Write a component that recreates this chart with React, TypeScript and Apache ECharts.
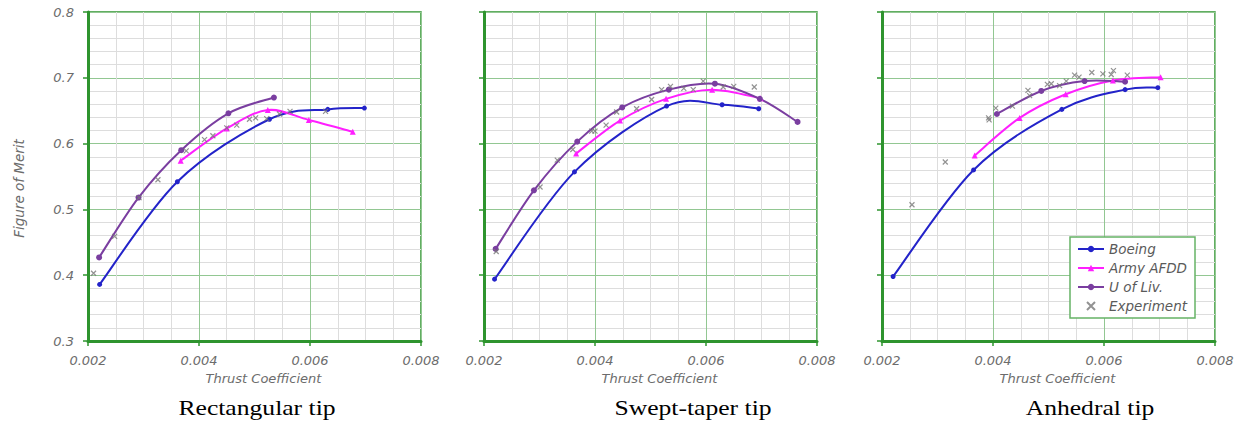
import React, { useEffect, useRef } from 'react';
import * as echarts from 'echarts';

// ---------- data ----------
const panelTitles = ['Rectangular tip', 'Swept-taper tip', 'Anhedral tip'];
const seriesNames = ['Boeing', 'Army AFDD', 'U of Liv.', 'Experiment'];
const xTicks = [0.002, 0.004, 0.006, 0.008];
const yTicks = [0.3, 0.4, 0.5, 0.6, 0.7, 0.8];

const rectBoeing = [[0.00221, 0.386], [0.00361, 0.542], [0.00527, 0.637], [0.00632, 0.652], [0.00698, 0.654]];
const rectAfdd = [[0.00367, 0.574], [0.0045, 0.623], [0.00524, 0.651], [0.00598, 0.636], [0.00677, 0.618]];
const rectLiv = [[0.0022, 0.427], [0.00291, 0.518], [0.00368, 0.59], [0.00453, 0.646], [0.00535, 0.67]];
const rectExp = [[0.0021, 0.403], [0.00248, 0.459], [0.00292, 0.518], [0.00326, 0.545], [0.00377, 0.589], [0.0041, 0.606], [0.00425, 0.612], [0.0045, 0.624], [0.00468, 0.628], [0.00491, 0.637], [0.00502, 0.639], [0.00522, 0.638], [0.00545, 0.645], [0.00564, 0.649], [0.00628, 0.649]];

const sweptBoeing = [[0.00219, 0.394], [0.00363, 0.557], [0.00529, 0.657], [0.00629, 0.659], [0.00695, 0.653]];
const sweptAfdd = [[0.00366, 0.585], [0.00445, 0.635], [0.00528, 0.668], [0.00611, 0.682], [0.00698, 0.669]];
const sweptLiv = [[0.00221, 0.44], [0.0029, 0.529], [0.00368, 0.603], [0.00449, 0.655], [0.00533, 0.682], [0.00616, 0.691], [0.00697, 0.668], [0.00765, 0.633]];
const sweptExp = [[0.00222, 0.436], [0.00301, 0.534], [0.00332, 0.575], [0.0036, 0.591], [0.00394, 0.619], [0.004, 0.619], [0.0042, 0.628], [0.00439, 0.648], [0.00475, 0.653], [0.00502, 0.667], [0.0052, 0.682], [0.00536, 0.687], [0.0056, 0.684], [0.00577, 0.682], [0.00595, 0.695], [0.00631, 0.686], [0.0065, 0.687], [0.00687, 0.686]];

const anhBoeing = [[0.0022, 0.398], [0.00365, 0.56], [0.00524, 0.652], [0.00638, 0.682], [0.00697, 0.685]];
const anhAfdd = [[0.00367, 0.582], [0.00448, 0.639], [0.00531, 0.675], [0.00616, 0.696], [0.00702, 0.701]];
const anhLiv = [[0.00407, 0.645], [0.00487, 0.68], [0.00565, 0.695], [0.00638, 0.694]];
const anhExp = [[0.00254, 0.507], [0.00314, 0.572], [0.00393, 0.636], [0.00392, 0.639], [0.00405, 0.654], [0.00435, 0.657], [0.00463, 0.681], [0.00466, 0.673], [0.00498, 0.69], [0.00505, 0.691], [0.0052, 0.688], [0.00532, 0.695], [0.00547, 0.704], [0.00555, 0.701], [0.00578, 0.708], [0.00598, 0.706], [0.00613, 0.705], [0.00617, 0.711], [0.00642, 0.704]];

const panels = [
  [rectBoeing, rectAfdd, rectLiv, rectExp],
  [sweptBoeing, sweptAfdd, sweptLiv, sweptExp],
  [anhBoeing, anhAfdd, anhLiv, anhExp],
];

// ---------- styles ----------
const gridLefts = [88, 484, 882];
const gridTop = 12;
const gridW = 333;
const gridH = 329;
const titleCenters = [257, 693, 1090];
const colors = ['#2323c9', '#ff1fff', '#7a3ea0', '#777777'];
const axisGreen = '#2e942e';
const majorGreen = '#92c792';
const minorGray = '#dddddd';
const labelGray = '#6c6c6c';
const uiFont = '"DejaVu Sans", "Open Sans", sans-serif';

// smooth curve (Catmull-Rom style bezier, like a spreadsheet "smoothed line")
function smoothPath(pts: number[][]): string {
  if (pts.length < 2) return '';
  const n = pts.length;
  let d = `M${pts[0][0]},${pts[0][1]}`;
  const t = 1 / 6;
  for (let i = 0; i < n - 1; i++) {
    const p0 = pts[Math.max(0, i - 1)];
    const p1 = pts[i];
    const p2 = pts[i + 1];
    const p3 = pts[Math.min(n - 1, i + 2)];
    const c1x = p1[0] + (p2[0] - p0[0]) * t;
    const c1y = p1[1] + (p2[1] - p0[1]) * t;
    const c2x = p2[0] - (p3[0] - p1[0]) * t;
    const c2y = p2[1] - (p3[1] - p1[1]) * t;
    d += ` C${c1x},${c1y} ${c2x},${c2y} ${p2[0]},${p2[1]}`;
  }
  return d;
}

export default function App() {
  const ref = useRef<HTMLDivElement>(null);

  useEffect(() => {
    if (!ref.current) return;
    const chart = echarts.init(ref.current, null, { renderer: 'svg' });

    const grids: any[] = [];
    const xAxes: any[] = [];
    const yAxes: any[] = [];
    const series: any[] = [];
    const graphics: any[] = [];

    panels.forEach((data, i) => {
      grids.push({
        left: gridLefts[i],
        top: gridTop,
        width: gridW,
        height: gridH,
        show: true,
        borderColor: axisGreen,
        borderWidth: 1.5,
        backgroundColor: '#ffffff',
      });
      xAxes.push({
        type: 'value',
        gridIndex: i,
        min: xTicks[0],
        max: xTicks[xTicks.length - 1],
        interval: xTicks[1] - xTicks[0],
        axisLine: { show: true, onZero: false, lineStyle: { color: axisGreen, width: 3 } },
        axisTick: { show: true, length: 5, lineStyle: { color: axisGreen, width: 1.5 } },
        axisLabel: {
          margin: 13,
          color: labelGray,
          fontStyle: 'italic',
          fontFamily: uiFont,
          fontSize: 13,
          formatter: (v: number) => v.toFixed(3),
        },
        splitLine: { show: true, lineStyle: { color: majorGreen, width: 1 } },
        minorTick: { show: false, splitNumber: 4 },
        minorSplitLine: { show: true, lineStyle: { color: minorGray, width: 1 } },
        name: 'Thrust Coefficient',
        nameLocation: 'middle',
        nameGap: 31,
        nameTextStyle: {
          color: labelGray,
          fontStyle: 'italic',
          fontFamily: uiFont,
          fontSize: 13,
          padding: [0, 0, 0, 18],
        },
      });
      yAxes.push({
        type: 'value',
        gridIndex: i,
        min: yTicks[0],
        max: yTicks[yTicks.length - 1],
        interval: 0.1,
        axisLine: { show: true, onZero: false, lineStyle: { color: axisGreen, width: 3 } },
        axisTick: { show: true, length: 5, lineStyle: { color: axisGreen, width: 1.5 } },
        axisLabel: {
          show: i === 0,
          margin: 14,
          color: labelGray,
          fontStyle: 'italic',
          fontFamily: uiFont,
          fontSize: 13,
          formatter: (v: number) => v.toFixed(1),
        },
        splitLine: { show: true, lineStyle: { color: majorGreen, width: 1 } },
        minorTick: { show: false, splitNumber: 5 },
        minorSplitLine: { show: true, lineStyle: { color: minorGray, width: 1 } },
        name: i === 0 ? 'Figure of Merit' : '',
        nameLocation: 'middle',
        nameGap: 62,
        nameTextStyle: {
          color: labelGray,
          fontStyle: 'italic',
          fontFamily: uiFont,
          fontSize: 13.5,
          padding: [0, 24, 0, 0],
        },
      });

      const lineSymbols = ['circle', 'triangle', 'circle'];
      const lineSizes = [5, 6, 6];
      for (let s = 0; s < 3; s++) {
        const pts = data[s];
        // markers (first, so the legend uses the line-series icon)
        series.push({
          type: 'line',
          name: seriesNames[s],
          xAxisIndex: i,
          yAxisIndex: i,
          data: pts,
          symbol: lineSymbols[s],
          symbolSize: lineSizes[s],
          showSymbol: true,
          lineStyle: { color: colors[s], width: 2, opacity: 0 },
          itemStyle: { color: colors[s] },
          z: 4 + s,
        });
        // smoothed curve drawn through the axis scales
        series.push({
          type: 'custom',
          name: seriesNames[s],
          xAxisIndex: i,
          yAxisIndex: i,
          data: pts,
          encode: { x: 0, y: 1 },
          clip: true,
          silent: true,
          z: 3 + s,
          renderItem: (params: any, api: any) => {
            if (params.dataIndex !== 0) return null;
            const px = pts.map((p) => api.coord(p));
            return {
              type: 'path',
              shape: { pathData: smoothPath(px) },
              style: { fill: 'none', stroke: colors[s], lineWidth: 2 },
            };
          },
        });
      }
      series.push({
        type: 'scatter',
        name: seriesNames[3],
        xAxisIndex: i,
        yAxisIndex: i,
        data: data[3],
        symbol: 'path://M0 0L10 10M10 0L0 10',
        symbolSize: 5,
        itemStyle: { color: 'none', borderColor: colors[3], borderWidth: 1.2 },
        z: 8,
      });

      graphics.push({
        type: 'text',
        x: titleCenters[i],
        y: 408,
        scaleX: 1.22,
        style: {
          text: panelTitles[i],
          fill: '#000000',
          font: '21px "Liberation Serif", "Times New Roman", serif',
          textAlign: 'center',
          textVerticalAlign: 'middle',
        },
      });
    });

    const legendData = seriesNames.map((name, k) =>
      k < 3
        ? {
            name,
            itemStyle: { color: colors[k] },
            lineStyle: { color: colors[k], width: 2, opacity: 1 },
          }
        : { name }
    );

    chart.setOption({
      animation: false,
      backgroundColor: '#ffffff',
      grid: grids,
      xAxis: xAxes,
      yAxis: yAxes,
      series,
      graphic: graphics,
      legend: {
        data: legendData,
        orient: 'vertical',
        left: 1070,
        top: 237,
        padding: [5, 8, 5, 7],
        itemGap: 5,
        itemWidth: 26,
        itemHeight: 8,
        backgroundColor: '#ffffff',
        borderColor: '#66b366',
        borderWidth: 1.5,
        textStyle: {
          color: '#5a5a5a',
          fontStyle: 'italic',
          fontFamily: uiFont,
          fontSize: 13.5,
        },
      },
    });

    return () => chart.dispose();
  }, []);

  return (
    <div
      ref={ref}
      style={{ position: 'absolute', left: 0, top: 0, width: 1244, height: 425 }}
    />
  );
}
